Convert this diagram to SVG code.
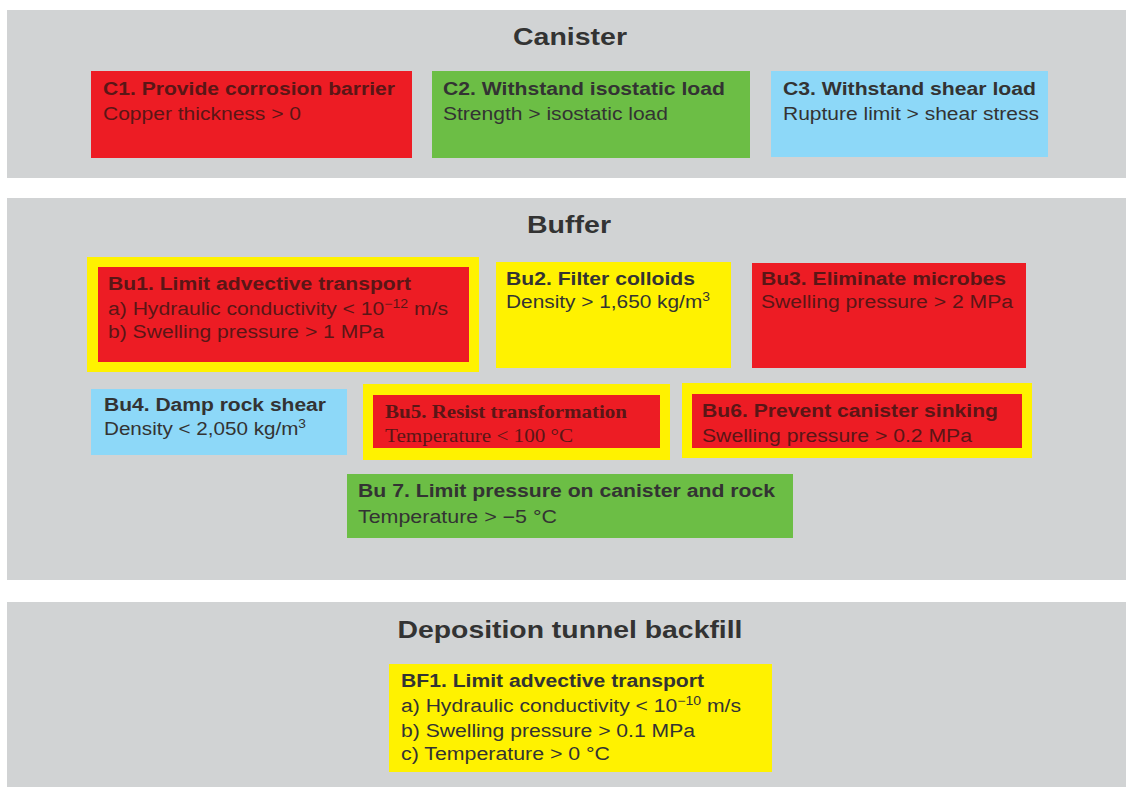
<svg xmlns="http://www.w3.org/2000/svg" width="1126" height="787" viewBox="0 0 1126 787">
<style>
.panel{fill:#d1d3d4}
.red{fill:#ed1c24}
.green{fill:#6cbe45}
.blue{fill:#8dd8f8}
.yellow{fill:#fff200}
.h{font-family:"Liberation Sans",Arial,sans-serif;font-weight:bold;font-size:24px;fill:#333;text-anchor:middle}
.t{font-family:"Liberation Sans",Arial,sans-serif;font-weight:bold;font-size:18px;fill:#333}
.b{font-family:"Liberation Sans",Arial,sans-serif;font-size:18px;fill:#333}
.onred{fill:#5a1616}
.st{font-family:"Liberation Serif","Times New Roman",serif;font-weight:bold;font-size:19px;fill:#5a1616}
.sb{font-family:"Liberation Serif","Times New Roman",serif;font-size:19px;fill:#5a1616}
</style>
<rect width="1126" height="787" fill="#ffffff"/>
<g id="panel-canister">
<rect class="panel" x="7" y="10" width="1119" height="168"/>
<text class="h" x="570" y="45" textLength="114" lengthAdjust="spacingAndGlyphs">Canister</text>
</g>
<g id="panel-buffer">
<rect class="panel" x="7" y="198" width="1119" height="382"/>
<text class="h" x="569" y="233" textLength="84" lengthAdjust="spacingAndGlyphs">Buffer</text>
</g>
<g id="panel-backfill">
<rect class="panel" x="7" y="602" width="1119" height="185"/>
<text class="h" x="570" y="638" textLength="345" lengthAdjust="spacingAndGlyphs">Deposition tunnel backfill</text>
</g>
<g id="C1">
<rect class="red" x="91" y="71" width="321" height="87"/>
<text class="t onred" x="103" y="95" textLength="292" lengthAdjust="spacingAndGlyphs">C1. Provide corrosion barrier</text>
<text class="b onred" x="103" y="120" textLength="198" lengthAdjust="spacingAndGlyphs">Copper thickness &gt; 0</text>
</g>
<g id="C2">
<rect class="green" x="432" y="71" width="318" height="87"/>
<text class="t" x="443" y="95" textLength="282" lengthAdjust="spacingAndGlyphs">C2. Withstand isostatic load</text>
<text class="b" x="443" y="120" textLength="225" lengthAdjust="spacingAndGlyphs">Strength &gt; isostatic load</text>
</g>
<g id="C3">
<rect class="blue" x="771" y="71" width="277" height="86"/>
<text class="t" x="783" y="95" textLength="253" lengthAdjust="spacingAndGlyphs">C3. Withstand shear load</text>
<text class="b" x="783" y="120" textLength="256" lengthAdjust="spacingAndGlyphs">Rupture limit &gt; shear stress</text>
</g>
<g id="Bu1">
<rect class="yellow" x="87" y="257" width="392" height="115"/>
<rect class="red" x="98" y="267" width="371" height="95"/>
<text class="t onred" x="108" y="290" textLength="303" lengthAdjust="spacingAndGlyphs">Bu1. Limit advective transport</text>
<text class="b onred" x="108" y="315" textLength="340" lengthAdjust="spacingAndGlyphs">a) Hydraulic conductivity &lt; 10<tspan font-size="12" dy="-7">−12</tspan><tspan dy="7"> m/s</tspan></text>
<text class="b onred" x="108" y="338" textLength="276" lengthAdjust="spacingAndGlyphs">b) Swelling pressure &gt; 1 MPa</text>
</g>
<g id="Bu2">
<rect class="yellow" x="496" y="262" width="235" height="106"/>
<text class="t" x="506" y="285" textLength="189" lengthAdjust="spacingAndGlyphs">Bu2. Filter colloids</text>
<text class="b" x="506" y="308" textLength="204" lengthAdjust="spacingAndGlyphs">Density &gt; 1,650 kg/m<tspan font-size="12" dy="-7">3</tspan></text>
</g>
<g id="Bu3">
<rect class="red" x="752" y="263" width="274" height="105"/>
<text class="t onred" x="761" y="285" textLength="245" lengthAdjust="spacingAndGlyphs">Bu3. Eliminate microbes</text>
<text class="b onred" x="761" y="308" textLength="252" lengthAdjust="spacingAndGlyphs">Swelling pressure &gt; 2 MPa</text>
</g>
<g id="Bu4">
<rect class="blue" x="91" y="389" width="256" height="66"/>
<text class="t" x="104" y="411" textLength="222" lengthAdjust="spacingAndGlyphs">Bu4. Damp rock shear</text>
<text class="b" x="104" y="435" textLength="202" lengthAdjust="spacingAndGlyphs">Density &lt; 2,050 kg/m<tspan font-size="12" dy="-7">3</tspan></text>
</g>
<g id="Bu5">
<rect class="yellow" x="363" y="384" width="307" height="76"/>
<rect class="red" x="373" y="395" width="287" height="53"/>
<text class="st" x="385" y="418" textLength="242" lengthAdjust="spacingAndGlyphs">Bu5. Resist transformation</text>
<text class="sb" x="385" y="442" textLength="188" lengthAdjust="spacingAndGlyphs">Temperature &lt; 100 °C</text>
</g>
<g id="Bu6">
<rect class="yellow" x="682" y="383" width="350" height="75"/>
<rect class="red" x="692" y="394" width="330" height="54"/>
<text class="t onred" x="702" y="417" textLength="296" lengthAdjust="spacingAndGlyphs">Bu6. Prevent canister sinking</text>
<text class="b onred" x="702" y="442" textLength="270" lengthAdjust="spacingAndGlyphs">Swelling pressure &gt; 0.2 MPa</text>
</g>
<g id="Bu7">
<rect class="green" x="347" y="474" width="446" height="64"/>
<text class="t" x="358" y="497" textLength="417" lengthAdjust="spacingAndGlyphs">Bu 7. Limit pressure on canister and rock</text>
<text class="b" x="358" y="523" textLength="199" lengthAdjust="spacingAndGlyphs">Temperature &gt; −5 °C</text>
</g>
<g id="BF1">
<rect class="yellow" x="389" y="664" width="383" height="108"/>
<text class="t" x="401" y="687" textLength="303" lengthAdjust="spacingAndGlyphs">BF1. Limit advective transport</text>
<text class="b" x="401" y="712" textLength="340" lengthAdjust="spacingAndGlyphs">a) Hydraulic conductivity &lt; 10<tspan font-size="12" dy="-7">−10</tspan><tspan dy="7"> m/s</tspan></text>
<text class="b" x="401" y="737" textLength="294" lengthAdjust="spacingAndGlyphs">b) Swelling pressure &gt; 0.1 MPa</text>
<text class="b" x="401" y="760" textLength="209" lengthAdjust="spacingAndGlyphs">c) Temperature &gt; 0 °C</text>
</g>
<g id="connectors"></g>
</svg>
